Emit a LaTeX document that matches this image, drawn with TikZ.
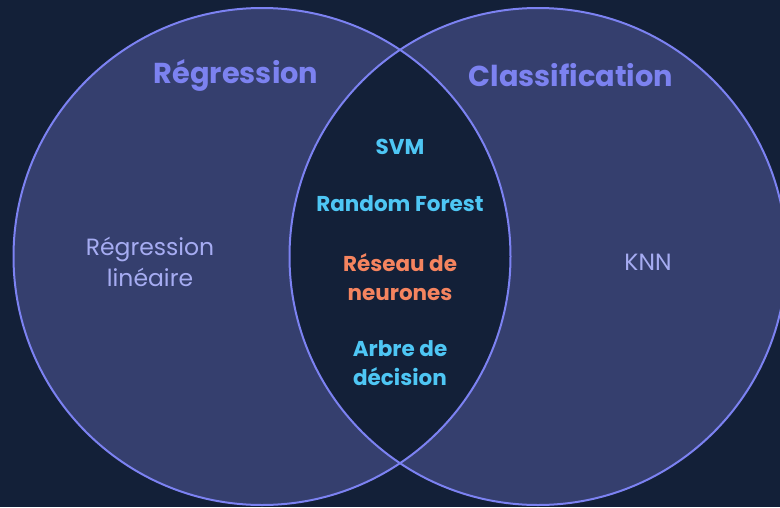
\documentclass[tikz,border=0pt]{standalone}
\usepackage{fontspec}
\setmainfont{Poppins}
\definecolor{bgnavy}{HTML}{132038}
\definecolor{setfill}{HTML}{353F6E}
\definecolor{setline}{HTML}{7C82F2}
\definecolor{headcol}{HTML}{7C82F0}
\definecolor{softcol}{HTML}{A6ACF2}
\definecolor{cyancol}{HTML}{4EC6F4}
\definecolor{orangecol}{HTML}{F5845F}
\tikzset{
  setcircle/.style={draw=setline, line width=2pt},
  heading/.style={text=headcol, font=\fontsize{28.8}{30}\selectfont\bfseries, anchor=center},
  member/.style={text=softcol, font=\fontsize{23.5}{31}\selectfont, align=center, anchor=center},
  shared/.style={text=cyancol, font=\fontsize{21.5}{29}\selectfont\bfseries, align=center, anchor=center},
  sharedhot/.style={shared, text=orangecol},
}
\begin{document}
\begin{tikzpicture}[x=1pt,y=-1pt]
  % canvas
  \fill[bgnavy] (0,0) rectangle (780,507);
  \useasboundingbox (0,0) rectangle (780,507);

  % the two sets
  \coordinate (cL) at (262,256.5);
  \coordinate (cR) at (538,256.5);
  \fill[setfill] (cL) circle[radius=248.5pt];
  \fill[setfill] (cR) circle[radius=248.5pt];
  % intersection left dark
  \begin{scope}
    \clip (cL) circle[radius=248.5pt];
    \fill[bgnavy] (cR) circle[radius=248.5pt];
  \end{scope}
  \draw[setcircle] (cL) circle[radius=248.5pt];
  \draw[setcircle] (cR) circle[radius=248.5pt];

  % set titles
  \node[heading] (regTitle) at (236,75) {Régression};
  \node[heading] (claTitle) at (571,75) {Classification};

  % members of one set only
  \node[member] (linReg) at (150,262) {Régression\\linéaire};
  \node[member] (knn) at (648,262) {KNN};

  % members of both sets
  \node[shared] (svm) at (400,147) {SVM};
  \node[shared] (rf) at (400,204) {Random Forest};
  \node[sharedhot] (nn) at (400,277) {Réseau de\\neurones};
  \node[shared] (tree) at (400,363) {Arbre de\\décision};
\end{tikzpicture}
\end{document}
